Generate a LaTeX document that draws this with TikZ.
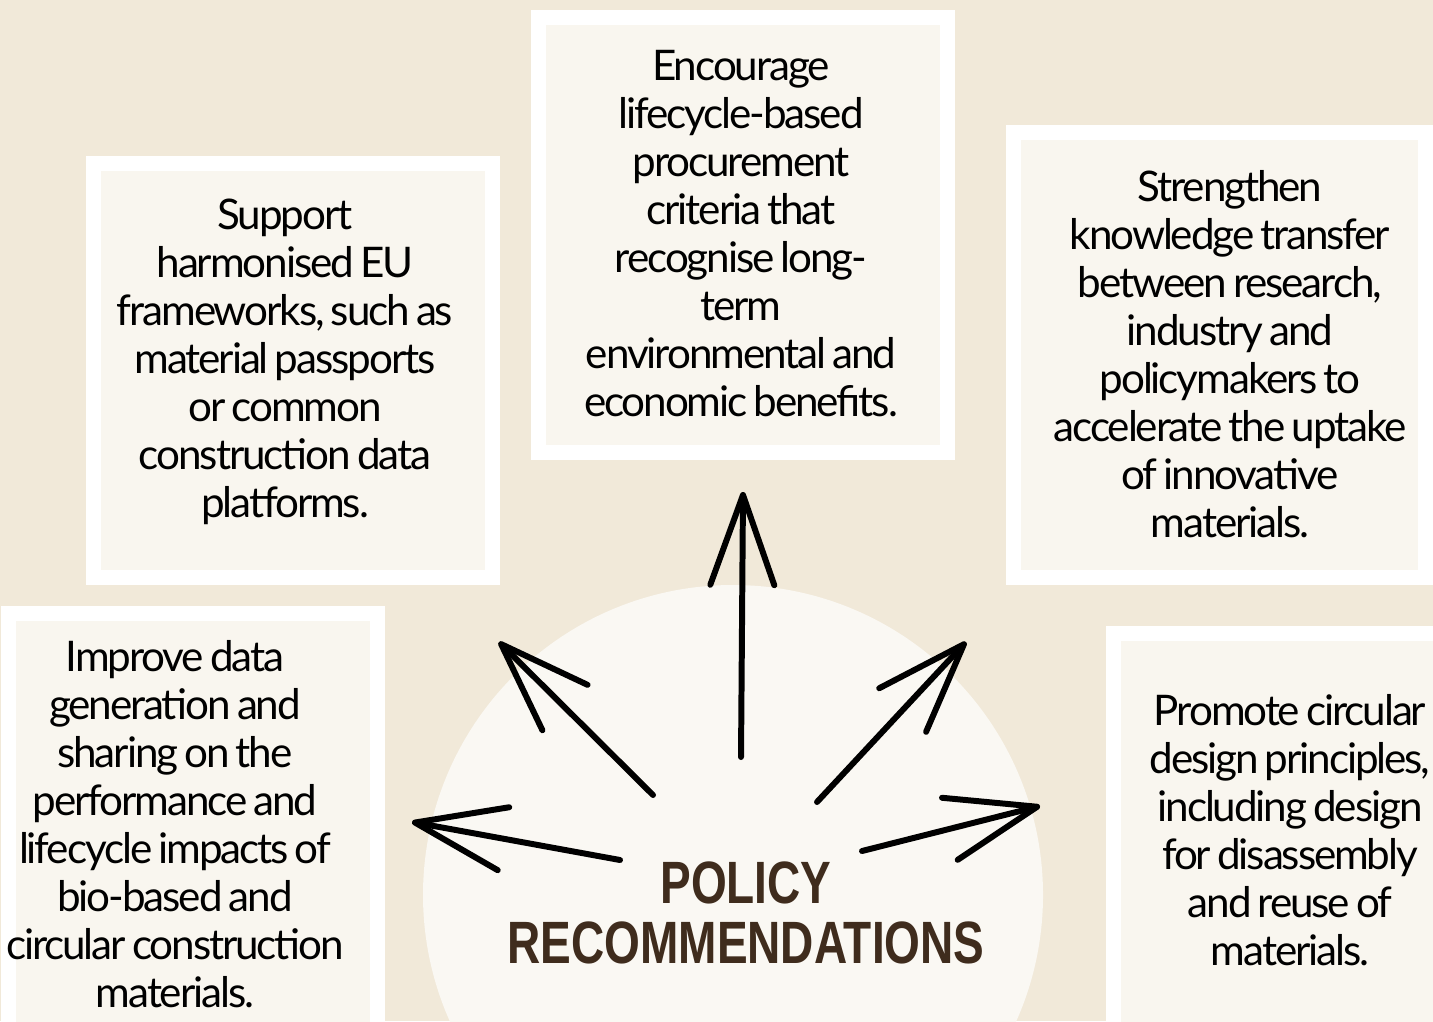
\documentclass[tikz,border=0pt]{standalone}
\usepackage{fontspec}
\setmainfont{Lato}[LetterSpace=-5, WordSpace=0.7]
\setsansfont{Liberation Sans}
\usetikzlibrary{arrows.meta}

\definecolor{paper}{HTML}{F1E9D9}
\definecolor{card}{HTML}{F9F6EF}
\definecolor{disc}{HTML}{FAF8F3}
\definecolor{cocoa}{HTML}{3F2C1D}

\tikzset{
    frame/.style={draw=white, line width=0.15cm, fill=card},
    note/.style={align=center, text=black, inner sep=0pt,
                 font=\fontsize{12}{13.66}\selectfont},
    title/.style={align=center, text=cocoa, inner sep=0pt, xscale=0.77,
                  font=\sffamily\bfseries\fontsize{17}{17.07}\selectfont}
}

\begin{document}
\begin{tikzpicture}
        \useasboundingbox (0,0) rectangle (14.33,10.21);
        \clip (0,0) rectangle (14.33,10.21);
        \fill[paper] (0,0) rectangle (14.33,10.21);
        \fill[disc] (7.33,1.26) circle (3.10);

        % cards
        \draw[frame] (0.93,4.44) rectangle (4.92,8.58);
        \draw[frame] (5.38,5.69) rectangle (9.47,10.03);
        \draw[frame] (10.13,4.44) rectangle (14.25,8.88);
        \draw[frame] (0.08,-0.3) rectangle (3.77,4.08);
        \draw[frame] (11.13,-0.3) rectangle (14.6,3.88);

        \node[note] (F) at (2.85,6.59) {Support\\harmonised EU\\frameworks, such as\\material passports\\or common\\construction data\\platforms.};
        \node[note] (P) at (7.41,7.87) {Encourage\\lifecycle-based\\procurement\\criteria that\\recognise long-\\term\\environmental and\\economic benefits.};
        \node[note] (K) at (12.30,6.67) {Strengthen\\knowledge transfer\\between research,\\industry and\\policymakers to\\accelerate the uptake\\of innovative\\materials.};
        \node[note] (I) at (1.75,1.97) {Improve data\\generation and\\sharing on the\\performance and\\lifecycle impacts of\\bio-based and\\circular construction\\materials.};
        \node[note] (C) at (12.90,1.91) {Promote circular\\design principles,\\including design\\for disassembly\\and reuse of\\materials.};

        \node[title] (T) at (7.46,1.08) {POLICY\\RECOMMENDATIONS};

        % arrow ends
        \coordinate (up0) at (7.41,2.64);
        \coordinate (up1) at (7.43,5.29);
        \coordinate (ul0) at (6.53,2.26);
        \coordinate (ul1) at (4.99,3.79);
        \coordinate (ur0) at (8.17,2.19);
        \coordinate (ur1) at (9.66,3.79);
        \coordinate (lt0) at (6.20,1.61);
        \coordinate (lt1) at (4.12,1.99);
        \coordinate (rt0) at (8.62,1.70);
        \coordinate (rt1) at (10.40,2.15);

        \begin{scope}[>={Straight Barb[length=9mm, width=6.4mm, round]},
                    every edge/.style={draw=black, line width=1.7pt, line cap=round}]
            \path [->] (up0) edge (up1);
            \path [->] (ul0) edge (ul1);
            \path [->] (ur0) edge (ur1);
            \path [->] (lt0) edge (lt1);
            \path [->] (rt0) edge (rt1);
        \end{scope}
    \end{tikzpicture}
\end{document}
